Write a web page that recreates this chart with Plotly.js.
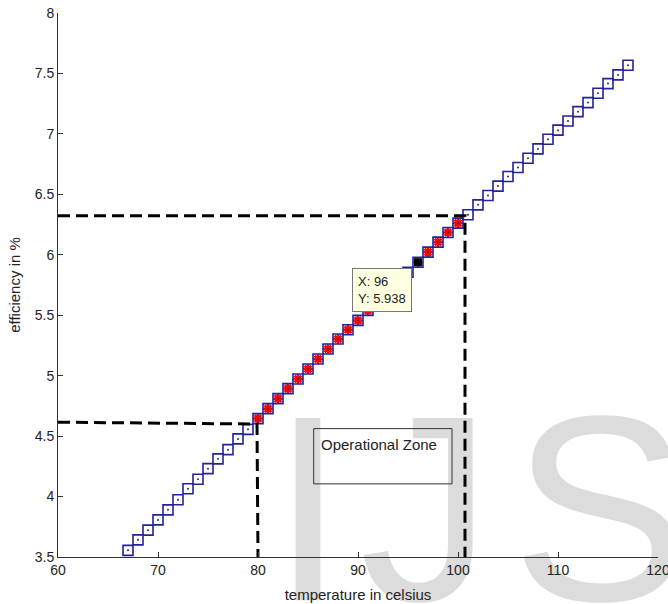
<!DOCTYPE html>
<html>
<head>
<meta charset="utf-8">
<script src="https://cdn.plot.ly/plotly-3.0.1.min.js"></script>
<style>html,body{margin:0;padding:0;background:#fff;}#chart{width:668px;height:604px;}</style>
</head>
<body>
<div id="chart"></div>
<script>
// ---- data ----
var temperature = [67,68,69,70,71,72,73,74,75,76,77,78,79,80,81,82,83,84,85,86,87,88,89,90,91,92,93,94,95,96,97,98,99,100,101,102,103,104,105,106,107,108,109,110,111,112,113,114,115,116,117];
var efficiency = [3.555,3.642,3.722,3.807,3.890,3.973,4.064,4.143,4.231,4.312,4.388,4.477,4.556,
                  4.645,4.727,4.810,4.893,4.973,5.055,5.138,5.221,5.303,5.380,5.457,
                  5.540,5.620,5.700,5.780,5.856,
                  5.938,6.022,6.105,6.184,6.262,
                  6.331,6.413,6.490,6.568,6.647,6.722,6.799,6.876,6.956,7.031,7.107,7.184,7.259,7.336,7.416,7.488,7.568];
var zoneStart = 80, zoneEnd = 100;
var tipX = 96, tipY = 5.938;
var upperGuideX = [60, 100.7, 100.7];
var upperGuideY = [6.322, 6.322, 3.5];
var lowerGuideX = [60, 79.9, 80.0];
var lowerGuideY = [4.615, 4.60, 3.5];
var zoneBoxX = [85.57, 99.4];
var zoneBoxY = [4.105, 4.562];
var zoneLabel = 'Operational Zone';
var xTicks = [60,70,80,90,100,110,120];
var yTicks = [3.5,4,4.5,5,5.5,6,6.5,7,7.5,8];
var yTickText = ['3.5','4','4.5','5','5.5','6','6.5','7','7.5','8'];
var watermarkLetters = ['I','J','S'];
var watermarkX = [85.0, 96.8, 114.2];
var watermarkY = [3.69, 3.69, 3.69];

// ---- derived ----
var zoneT = [], zoneE = [];
temperature.forEach(function(t,i){ if(t>=zoneStart && t<=zoneEnd){ zoneT.push(t); zoneE.push(efficiency[i]); } });

var FONT = 'Liberation Sans, Arial, sans-serif';
var dash = '12px,6px';

var traces = [
  {x: watermarkX, y: watermarkY, text: watermarkLetters, mode:'text', textposition:'middle center',
   textfont:{family:FONT, size:265, color:'#dcdcdc'}, cliponaxis:false, hoverinfo:'skip'},
  {x: zoneT, y: zoneE, mode:'markers', marker:{symbol:'asterisk-open', size:8, color:'#ff0000', line:{width:2.5, color:'#ff0000'}}, hoverinfo:'skip'},
  {x: temperature, y: efficiency, mode:'markers', marker:{symbol:'square-open', size:10, color:'#22229a', line:{width:1.6, color:'#22229a'}}},
  {x: temperature, y: efficiency, mode:'markers', marker:{symbol:'circle', size:2, color:'#333'}, hoverinfo:'skip'},
  {x: upperGuideX, y: upperGuideY, mode:'lines', line:{color:'#000', width:3, dash:dash}, hoverinfo:'skip'},
  {x: lowerGuideX, y: lowerGuideY, mode:'lines', line:{color:'#000', width:3, dash:dash}, hoverinfo:'skip'},
  {x: [tipX], y: [tipY], mode:'markers', marker:{symbol:'square', size:8, color:'#000'}, hoverinfo:'skip'}
];

var axisCommon = {
  showline:true, linecolor:'#333', linewidth:1, ticks:'inside', ticklen:5, tickwidth:1, tickcolor:'#333',
  showgrid:false, zeroline:false, mirror:false, tickfont:{family:FONT, size:14, color:'#222'},
  ticklabeloverflow:'allow'
};

var layout = {
  width:668, height:604,
  margin:{l:58, r:10, t:13, b:47, pad:0},
  paper_bgcolor:'#fff', plot_bgcolor:'#fff',
  showlegend:false,
  xaxis: Object.assign({}, axisCommon, {range:[60,120], tickvals:xTicks,
    title:{text:'temperature in celsius', font:{family:FONT, size:15, color:'#222'}, standoff:12}}),
  yaxis: Object.assign({}, axisCommon, {range:[3.5,8], tickvals:yTicks, ticktext:yTickText,
    title:{text:'efficiency in %', font:{family:FONT, size:15, color:'#222'}, standoff:10}}),
  shapes:[
    {type:'rect', xref:'x', yref:'y', x0:zoneBoxX[0], x1:zoneBoxX[1], y0:zoneBoxY[0], y1:zoneBoxY[1],
     line:{color:'#333', width:1}, fillcolor:'rgba(0,0,0,0)'}
  ],
  annotations:[
    {xref:'x', yref:'y', x:86.1, y:4.43, text:zoneLabel, showarrow:false, xanchor:'left', yanchor:'middle',
     font:{family:FONT, size:15, color:'#222'}},
    {xref:'x', yref:'y', x:tipX, y:tipY, text:'X: '+tipX+'<br>Y: '+tipY.toFixed(3), showarrow:false,
     xanchor:'right', yanchor:'top', xshift:-6, yshift:-6, align:'left',
     bgcolor:'#ffffe1', bordercolor:'#777', borderwidth:1, borderpad:5,
     font:{family:FONT, size:13, color:'#222'}}
  ]
};

Plotly.newPlot('chart', traces, layout, {displayModeBar:false, staticPlot:true});
</script>
</body>
</html>
